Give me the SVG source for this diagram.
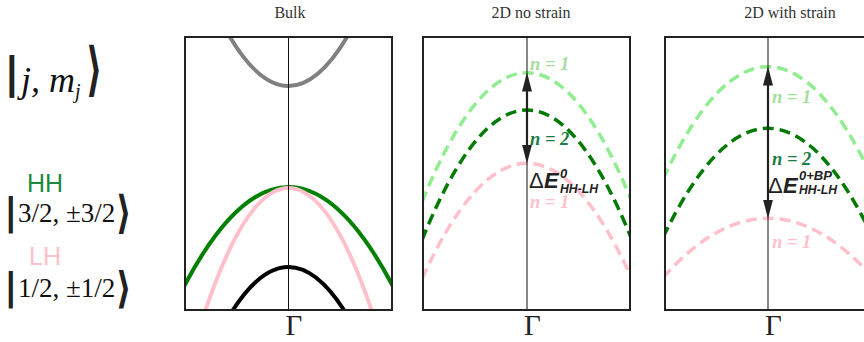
<svg xmlns="http://www.w3.org/2000/svg" width="864" height="342" viewBox="0 0 864 342">
<style>
.title{font-family:"Liberation Serif",serif;font-size:16px;fill:#333;text-anchor:middle}
.gam{font-family:"Liberation Serif",serif;font-size:29px;fill:#222}
.box{fill:none;stroke:#222;stroke-width:2}
.axis{stroke:#111;stroke-width:1}
.solid{fill:none;stroke-width:4}
.dash{fill:none;stroke-width:3.5;stroke-dasharray:11 6}
.nl{font-family:"Liberation Serif",serif;font-style:italic;font-weight:bold;font-size:18.5px}
.de{font-family:"Liberation Sans",Arial,sans-serif;fill:#222}
.bi{font-style:italic;font-weight:bold}
.ket{font-family:"Liberation Serif",serif;fill:#111}
.bar{font-family:"DejaVu Sans",sans-serif;fill:#222}
.hl{font-family:"Liberation Sans",Arial,sans-serif;font-size:25px}
.arr{stroke:#222;stroke-width:2.2;fill:none}
</style>
<defs>
<clipPath id="c1"><rect x="185" y="37" width="207" height="273"/></clipPath>
<clipPath id="c2"><rect x="423" y="37" width="207" height="273"/></clipPath>
<clipPath id="c3"><rect x="665" y="37" width="207" height="273"/></clipPath>
<marker id="ah" viewBox="0 0 19 10" refX="15" refY="5" markerWidth="19" markerHeight="10" markerUnits="userSpaceOnUse" orient="auto-start-reverse">
<path d="M0,0 L19,5 L0,10 z" fill="#222"/>
</marker>
</defs>
<rect width="864" height="342" fill="#fff"/>

<g id="ket-labels">
<text class="bar" x="4" y="88" font-size="43" font-weight="bold">|</text>
<text class="ket" x="21" y="92" font-size="36" font-style="italic">j, m<tspan font-size="20" dy="6">j</tspan></text>
<text class="bar" font-size="36" font-weight="bold" transform="translate(86,89) scale(1,1.63)">⟩</text>
<text class="hl" x="27" y="192" fill="#1b8a3e">HH</text>
<text class="bar" x="4" y="225" font-size="37" font-weight="bold">|</text>
<text class="ket" x="18" y="222" font-size="27">3/2, ±3/2</text>
<text class="bar" font-size="34" font-weight="bold" transform="translate(116,227.5) scale(1,1.33)">⟩</text>
<text class="hl" x="29" y="265" fill="#ffc0cb">LH</text>
<text class="bar" x="4" y="300" font-size="37" font-weight="bold">|</text>
<text class="ket" x="18" y="297" font-size="27">1/2, ±1/2</text>
<text class="bar" font-size="34" font-weight="bold" transform="translate(116,302.7) scale(1,1.27)">⟩</text>
</g>

<g id="panel-bulk">
<text class="title" x="290" y="18">Bulk</text>
<g clip-path="url(#c1)">
<path class="solid" stroke="#808080" d="M218.5,16 Q288.5,156 358.5,16"/>
<path class="solid" stroke="#008000" d="M184.5,285.5 Q288.5,88.5 392.5,285.5"/>
<path class="solid" stroke="#ffc0cb" d="M198.5,331.4 Q288.5,44.6 378.5,331.4"/>
<path class="solid" stroke="#000" d="M223.5,326 Q288.5,208 353.5,326"/>
</g>
<line class="axis" x1="288.5" y1="37" x2="288.5" y2="310"/>
<rect class="box" x="185" y="37" width="207" height="273"/>
<text class="gam" x="285.5" y="335">Γ</text>
</g>

<g id="panel-2d-no-strain">
<text class="title" x="531" y="18">2D no strain</text>
<g clip-path="url(#c2)">
<path class="dash" stroke="#90ee90" d="M422,202 Q527,-56.7 632,202"/>
<path class="dash" stroke="#007a00" d="M422,240 Q527,-20 632,240"/>
<path class="dash" stroke="#ffc0cb" d="M422,279 Q527,47.5 632,279"/>
</g>
<line class="axis" x1="527" y1="37" x2="527" y2="310"/>
<rect class="box" x="423" y="37" width="207" height="273"/>
<text class="gam" x="524" y="335">Γ</text>
<text class="nl" x="530" y="70" fill="#a8dca0">n = 1</text>
<text class="nl" x="530" y="145" fill="#1b7d45">n = 2</text>
<text class="de" y="188"><tspan x="529" font-size="22">Δ</tspan><tspan class="bi" x="544" font-size="22">E</tspan><tspan class="bi" x="560" y="178" font-size="13">0</tspan><tspan class="bi" x="560" y="193" font-size="13" textLength="38" lengthAdjust="spacingAndGlyphs">HH-LH</tspan></text>
<text class="nl" x="530" y="208" fill="#ffc0cb">n = 1</text>
</g>

<g id="panel-2d-with-strain">
<text class="title" x="790" y="18">2D with strain</text>
<g clip-path="url(#c3)">
<path class="dash" stroke="#90ee90" d="M663,179.2 Q768,-45.8 873,179.2"/>
<path class="dash" stroke="#007a00" d="M663,237.4 Q768,19.2 873,237.4"/>
<path class="dash" stroke="#ffc0cb" d="M663,277.8 Q768,158.8 873,277.8"/>
</g>
<line class="axis" x1="768" y1="37" x2="768" y2="310"/>
<rect class="box" x="665" y="37" width="207" height="273"/>
<text class="gam" x="765" y="335">Γ</text>
<text class="nl" x="772" y="103" fill="#a8dca0">n = 1</text>
<text class="nl" x="772" y="165" fill="#1b7d45">n = 2</text>
<text class="de" y="193"><tspan x="768" font-size="22">Δ</tspan><tspan class="bi" x="783" font-size="22">E</tspan><tspan class="bi" x="799" y="180" font-size="13">0+BP</tspan><tspan class="bi" x="799" y="194" font-size="13" textLength="38" lengthAdjust="spacingAndGlyphs">HH-LH</tspan></text>
<text class="nl" x="772" y="248" fill="#ffc0cb">n = 1</text>
</g>

<g id="connectors">
<line class="arr" x1="527" y1="76.5" x2="527" y2="159.5" marker-start="url(#ah)" marker-end="url(#ah)"/>
<line class="arr" x1="768" y1="70.5" x2="768" y2="214.5" marker-start="url(#ah)" marker-end="url(#ah)"/>
</g>
</svg>
